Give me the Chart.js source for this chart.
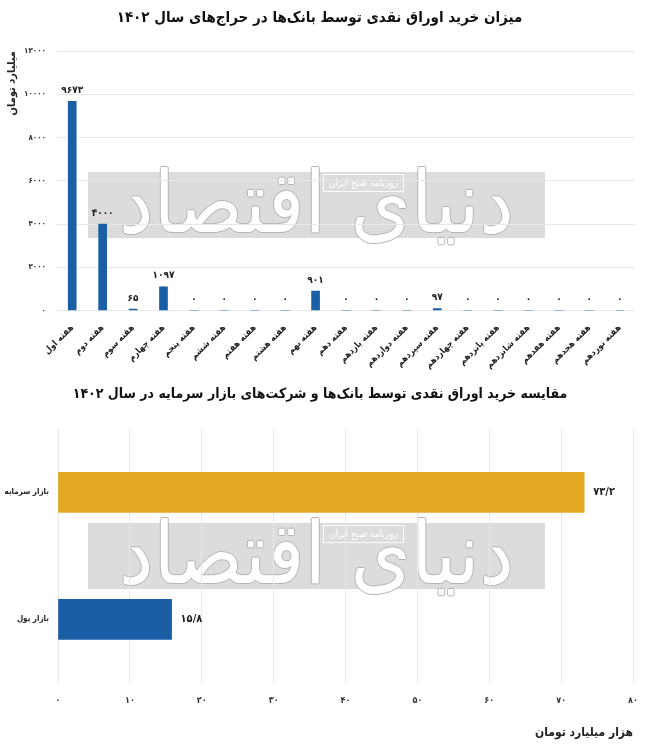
<!DOCTYPE html>
<html lang="fa">
<head>
<meta charset="utf-8">
<script src="https://cdn.jsdelivr.net/npm/chart.js@4.4.1/dist/chart.umd.min.js"></script>
<style>
  html, body { margin: 0; padding: 0; background: #fff; }
  body { width: 650px; height: 752px; position: relative; overflow: hidden; font-family: "DejaVu Sans Condensed", "DejaVu Sans", sans-serif; }
  .box { position: absolute; left: 0; width: 650px; z-index: 2; }
  #top { top: 0; height: 380px; }
  #bottom { top: 380px; height: 372px; }
  .wm { position: absolute; left: 88px; width: 457px; height: 66px; background: #dcdcdc; pointer-events: none; z-index: 1; }
  .wm span.tag { position: absolute; left: 235px; top: 2px; border: 1px solid rgba(255,255,255,0.9); color: #fff; font-size: 10px; line-height: 14px; padding: 1px 5px; direction: rtl; }
  .wm span.big { position: absolute; left: 0; top: -45px; width: 457px; text-align: center; font-size: 86px; line-height: 150px; color: #fff;
    text-shadow: 1px 0 0 #b5b5b5, -1px 0 0 #b5b5b5, 0 1px 0 #b5b5b5, 0 -1px 0 #b5b5b5; direction: rtl; white-space: nowrap; }
</style>
</head>
<body>
<div class="wm" style="top:172px"><span class="big">دنیای اقتصاد</span><span class="tag">روزنامه صبح ایران</span></div>
<div class="wm" style="top:523px"><span class="big">دنیای اقتصاد</span><span class="tag">روزنامه صبح ایران</span></div>
<div class="box" id="top"><canvas id="weekly"></canvas></div>
<div class="box" id="bottom"><canvas id="market"></canvas></div>
<script>
// داده‌ها
const weeks = ['هفته اول', 'هفته دوم', 'هفته سوم', 'هفته چهارم', 'هفته پنجم', 'هفته ششم', 'هفته هفتم',
  'هفته هشتم', 'هفته نهم', 'هفته دهم', 'هفته یازدهم', 'هفته دوازدهم', 'هفته سیزدهم', 'هفته چهاردهم',
  'هفته پانزدهم', 'هفته شانزدهم', 'هفته هفدهم', 'هفته هجدهم', 'هفته نوزدهم'];
const weeklyPurchase = [9673, 4000, 65, 1097, 0, 0, 0, 0, 901, 0, 0, 0, 97, 0, 0, 0, 0, 0, 0];
const weeklyTicks = [0, 2000, 4000, 6000, 8000, 10000, 12000];

const markets = ['بازار سرمایه', 'بازار پول'];
const marketPurchase = [73.2, 15.8];
const marketTicks = [0, 10, 20, 30, 40, 50, 60, 70, 80];

const BLUE = '#1a5ea6';
const GOLD = '#e4a923';
const FONT = '"DejaVu Sans Condensed", "DejaVu Sans", sans-serif';

function fa(v) {
  return String(v).replace('.', '/').replace(/\d/g, d => '۰۱۲۳۴۵۶۷۸۹'[d]);
}

// برچسب مقدار روی میله‌ها
const valueLabels = {
  id: 'valueLabels',
  afterDatasetsDraw(chart) {
    const ctx = chart.ctx;
    const horiz = chart.options.indexAxis === 'y';
    chart.data.datasets.forEach((ds, di) => {
      chart.getDatasetMeta(di).data.forEach((bar, i) => {
        ctx.save();
        ctx.fillStyle = '#222';
        if (horiz) {
          ctx.font = 'bold 11px ' + FONT;
          ctx.textAlign = 'left';
          ctx.textBaseline = 'middle';
          ctx.fillText(fa(ds.data[i]), bar.x + 9, bar.y);
        } else {
          ctx.font = 'bold 10px ' + FONT;
          ctx.textAlign = 'center';
          ctx.textBaseline = 'bottom';
          ctx.fillText(fa(ds.data[i]), bar.x, bar.y - 6);
        }
        ctx.restore();
      });
    });
  }
};

Chart.defaults.font.family = FONT;
Chart.defaults.color = '#222';
Chart.defaults.animation = false;

new Chart(document.getElementById('weekly'), {
  type: 'bar',
  data: {
    labels: weeks,
    datasets: [{ data: weeklyPurchase, backgroundColor: BLUE, barThickness: 8 }]
  },
  options: {
    responsive: true,
    maintainAspectRatio: false,
    layout: { padding: { left: 4, right: 15, top: 0, bottom: 5 } },
    plugins: {
      legend: { display: false },
      tooltip: { enabled: false },
      title: {
        display: true,
        text: 'میزان خرید اوراق نقدی توسط بانک‌ها در حراج‌های سال ۱۴۰۲',
        font: { size: 15, weight: 'bold' },
        color: '#111',
        padding: { top: 9, bottom: 24 }
      }
    },
    scales: {
      x: {
        grid: { display: false },
        border: { display: false },
        ticks: { minRotation: 45, maxRotation: 45, font: { size: 9, weight: 'bold' }, color: '#222', padding: 4 }
      },
      y: {
        min: 0, max: 12000,
        afterBuildTicks: s => { s.ticks = weeklyTicks.map(v => ({ value: v })); },
        afterFit: s => { s.width = 53; },
        grid: { color: '#e8e8e8', drawTicks: false },
        border: { display: false },
        ticks: { callback: v => fa(v), font: { size: 8, weight: 'bold' }, color: '#333', padding: 11 },
        title: { display: true, text: 'میلیارد تومان', align: 'end', font: { size: 11, weight: 'bold' }, color: '#222', padding: 2 }
      }
    }
  },
  plugins: [valueLabels]
});

new Chart(document.getElementById('market'), {
  type: 'bar',
  data: {
    labels: markets,
    datasets: [{ data: marketPurchase, backgroundColor: [GOLD, BLUE], barThickness: 40 }]
  },
  options: {
    indexAxis: 'y',
    responsive: true,
    maintainAspectRatio: false,
    layout: { padding: { left: 4, right: 14, top: 0, bottom: 8 } },
    plugins: {
      legend: { display: false },
      tooltip: { enabled: false },
      title: {
        display: true,
        text: 'مقایسه خرید اوراق نقدی توسط بانک‌ها و شرکت‌های بازار سرمایه در سال ۱۴۰۲',
        font: { size: 14, weight: 'bold' },
        color: '#111',
        padding: { top: 6, bottom: 26 }
      }
    },
    scales: {
      x: {
        min: 0, max: 80,
        afterBuildTicks: s => { s.ticks = marketTicks.map(v => ({ value: v })); },
        grid: { color: '#e8e8e8', drawTicks: false },
        border: { display: false },
        ticks: { callback: v => fa(v), font: { size: 9, weight: 'bold' }, color: '#333', padding: 12 },
        title: { display: true, text: 'هزار میلیارد تومان', align: 'end', font: { size: 12, weight: 'bold' }, color: '#222', padding: { top: 8 } }
      },
      y: {
        afterFit: s => { s.width = 54; },
        grid: { display: false, drawTicks: false },
        border: { display: false },
        ticks: { font: { size: 8, weight: 'bold' }, color: '#222', padding: 9 }
      }
    }
  },
  plugins: [valueLabels]
});
</script>
</body>
</html>
